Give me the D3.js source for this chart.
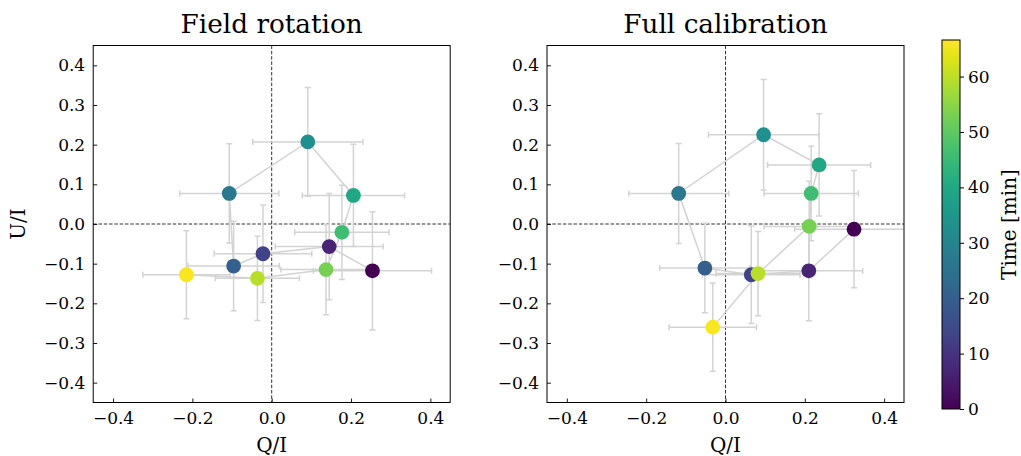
<!DOCTYPE html>
<html>
<head>
<meta charset="utf-8">
<script src="https://cdn.jsdelivr.net/npm/d3@7"></script>
<style>
  body { margin: 0; background: #fff; }
  svg text { font-family: "DejaVu Serif", serif; fill: #000; }
</style>
</head>
<body>
<svg id="chart" width="1021" height="456"></svg>
<script>
// time of each observation [min]
const times = [0, 6.6, 13.2, 19.8, 26.4, 33, 39.6, 46.2, 52.8, 59.4, 66]

// panel 1: field rotation
const rotQ = [0.254, 0.145, -0.022, -0.096, -0.107, 0.091, 0.206, 0.177, 0.137, -0.036, -0.215]
const rotU = [-0.118, -0.057, -0.075, -0.106, 0.077, 0.207, 0.072, -0.021, -0.115, -0.137, -0.128]
const rotQerr = [0.149, 0.136, 0.123, 0.115, 0.125, 0.139, 0.129, 0.119, 0.114, 0.106, 0.11]
const rotUerr = [0.149, 0.134, 0.123, 0.113, 0.125, 0.137, 0.129, 0.119, 0.114, 0.106, 0.111]

// panel 2: full calibration
const calQ = [0.324, 0.21, 0.065, -0.052, -0.118, 0.096, 0.236, 0.216, 0.211, 0.082, -0.032]
const calU = [-0.013, -0.118, -0.128, -0.111, 0.077, 0.225, 0.149, 0.077, -0.006, -0.125, -0.26]
const calQerr = [0.15, 0.136, 0.123, 0.114, 0.126, 0.139, 0.13, 0.119, 0.114, 0.106, 0.11]
const calUerr = [0.148, 0.126, 0.123, 0.113, 0.126, 0.139, 0.129, 0.119, 0.114, 0.106, 0.111]

const axTicks = [-0.4, -0.3, -0.2, -0.1, 0, 0.1, 0.2, 0.3, 0.4]
const xTicks = [-0.4, -0.2, 0, 0.2, 0.4]
const cbTicks = [0, 10, 20, 30, 40, 50, 60]

const svg = d3.select('#chart')
const size = 357
const axTop = 45.5
const tickFont = '17px'
const labelFont = '20px'
const color = d3.scaleSequential(d3.interpolateViridis).domain([0, 66.6])

const panels = [
  {title: 'Field rotation', left: 93.2, q: rotQ, u: rotU, qe: rotQerr, ue: rotUerr, ylabel: true},
  {title: 'Full calibration', left: 547, q: calQ, u: calU, qe: calQerr, ue: calUerr, ylabel: false}
]

const fmt = v => (v < 0 ? '\u2212' : '') + Math.abs(v).toFixed(1)

panels.forEach((p, pi) => {
  const x = d3.scaleLinear().domain([-0.45, 0.45]).range([p.left, p.left + size])
  const y = d3.scaleLinear().domain([-0.45, 0.45]).range([axTop + size, axTop])
  const g = svg.append('g').attr('class', 'panel' + pi)

  const clipId = 'clip' + pi
  g.append('clipPath').attr('id', clipId).append('rect')
    .attr('x', p.left).attr('y', axTop).attr('width', size).attr('height', size)

  const data = p.q.map((q, i) => ({q, u: p.u[i], qe: p.qe[i], ue: p.ue[i], t: times[i]}))
  const plot = g.append('g').attr('clip-path', `url(#${clipId})`)

  // zero lines
  plot.append('line')
    .attr('x1', x(0)).attr('x2', x(0)).attr('y1', axTop).attr('y2', axTop + size)
    .attr('stroke', '#333').attr('stroke-width', 1).attr('stroke-dasharray', '3.5,1.8')
  plot.append('line')
    .attr('x1', p.left).attr('x2', p.left + size).attr('y1', y(0)).attr('y2', y(0))
    .attr('stroke', '#333').attr('stroke-width', 1).attr('stroke-dasharray', '3.5,1.8')

  // error bars
  const cap = 3
  const eb = plot.append('g').attr('stroke', '#d3d3d3').attr('stroke-width', 1.5).attr('fill', 'none')
  data.forEach(d => {
    eb.append('line').attr('x1', x(d.q - d.qe)).attr('x2', x(d.q + d.qe)).attr('y1', y(d.u)).attr('y2', y(d.u))
    eb.append('line').attr('x1', x(d.q)).attr('x2', x(d.q)).attr('y1', y(d.u - d.ue)).attr('y2', y(d.u + d.ue))
    ;[d.q - d.qe, d.q + d.qe].forEach(v => {
      eb.append('line').attr('x1', x(v)).attr('x2', x(v)).attr('y1', y(d.u) - cap).attr('y2', y(d.u) + cap)
    })
    ;[d.u - d.ue, d.u + d.ue].forEach(v => {
      eb.append('line').attr('x1', x(d.q) - cap).attr('x2', x(d.q) + cap).attr('y1', y(v)).attr('y2', y(v))
    })
  })

  // connecting track
  plot.append('path')
    .attr('d', d3.line().x(d => x(d.q)).y(d => y(d.u))(data))
    .attr('fill', 'none').attr('stroke', '#d3d3d3').attr('stroke-width', 1.5)

  // points
  plot.selectAll('circle').data(data).join('circle')
    .attr('cx', d => x(d.q)).attr('cy', d => y(d.u)).attr('r', 7.4)
    .attr('fill', d => color(d.t))

  // axes
  const xAxis = d3.axisBottom(x).tickValues(xTicks).tickSizeInner(-4).tickSizeOuter(0).tickPadding(9).tickFormat(fmt)
  const yAxis = d3.axisLeft(y).tickValues(axTicks).tickSizeInner(-4).tickSizeOuter(0).tickPadding(8).tickFormat(fmt)
  const gx = g.append('g').attr('transform', `translate(0,${axTop + size})`).call(xAxis)
  const gy = g.append('g').attr('transform', `translate(${p.left},0)`).call(yAxis)
  ;[gx, gy].forEach(a => {
    a.select('.domain').remove()
    a.selectAll('text').style('font-family', '"DejaVu Serif", serif').style('font-size', tickFont).attr('fill', '#000')
    a.selectAll('line').attr('stroke', '#000').attr('stroke-width', 0.9)
  })

  g.append('rect').attr('x', p.left).attr('y', axTop).attr('width', size).attr('height', size)
    .attr('fill', 'none').attr('stroke', '#000').attr('stroke-width', 1)

  g.append('text').attr('x', p.left + size / 2).attr('y', 33).attr('text-anchor', 'middle')
    .style('font-size', '26.3px').text(p.title)
  g.append('text').attr('x', p.left + size / 2).attr('y', 452).attr('text-anchor', 'middle')
    .style('font-size', labelFont).text('Q/I')
  if (p.ylabel) {
    g.append('text').attr('transform', `translate(25,${axTop + size / 2}) rotate(-90)`).attr('text-anchor', 'middle')
      .style('font-size', labelFont).text('U/I')
  }
})

// colorbar
const cbX = 942, cbW = 18, cbTop = 40, cbBot = 409
const cb = d3.scaleLinear().domain([0, 66.6]).range([cbBot, cbTop])
const defs = svg.append('defs')
const grad = defs.append('linearGradient').attr('id', 'cbgrad').attr('x1', 0).attr('y1', 1).attr('x2', 0).attr('y2', 0)
d3.range(0, 1.0001, 0.05).forEach(s => {
  grad.append('stop').attr('offset', s).attr('stop-color', d3.interpolateViridis(s))
})
svg.append('rect').attr('x', cbX).attr('y', cbTop).attr('width', cbW).attr('height', cbBot - cbTop)
  .attr('fill', 'url(#cbgrad)').attr('stroke', '#000').attr('stroke-width', 1)
const cbAxis = svg.append('g').attr('transform', `translate(${cbX + cbW},0)`)
  .call(d3.axisRight(cb).tickValues(cbTicks).tickSizeInner(4).tickSizeOuter(0).tickPadding(4))
cbAxis.select('.domain').remove()
cbAxis.selectAll('text').style('font-family', '"DejaVu Serif", serif').style('font-size', tickFont).attr('fill', '#000')
cbAxis.selectAll('line').attr('stroke', '#000')
svg.append('text').attr('transform', `translate(1016,${(cbTop + cbBot) / 2}) rotate(-90)`).attr('text-anchor', 'middle')
  .style('font-size', labelFont).text('Time [min]')
</script>
</body>
</html>
